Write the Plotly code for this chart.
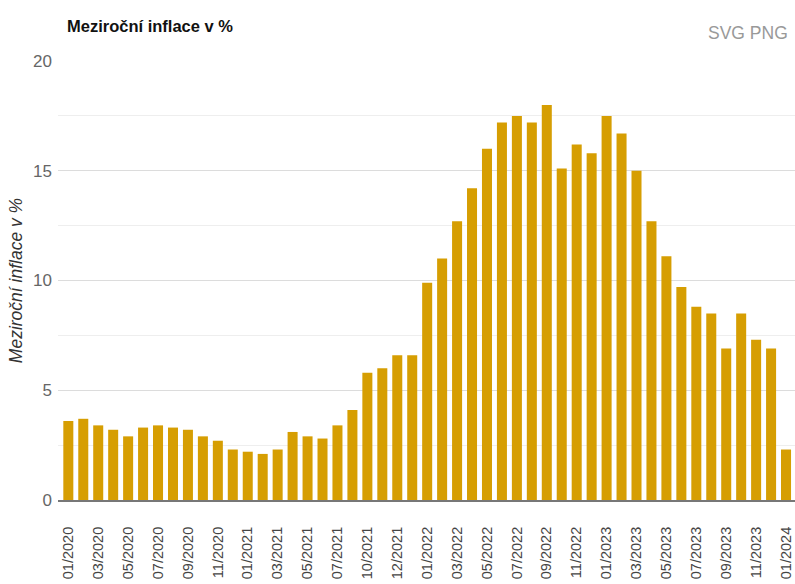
import plotly.graph_objects as go

# Monthly year-on-year inflation (%), in chart order
months = [
    "01/2020", "02/2020", "03/2020", "04/2020", "05/2020", "06/2020",
    "07/2020", "08/2020", "09/2020", "10/2020", "11/2020", "12/2020",
    "01/2021", "02/2021", "03/2021", "04/2021", "05/2021", "06/2021",
    "07/2021", "08/2021", "10/2021", "11/2021", "12/2021", "12/2021",
    "01/2022", "02/2022", "03/2022", "04/2022", "05/2022", "06/2022",
    "07/2022", "08/2022", "09/2022", "10/2022", "11/2022", "12/2022",
    "01/2023", "02/2023", "03/2023", "04/2023", "05/2023", "06/2023",
    "07/2023", "08/2023", "09/2023", "10/2023", "11/2023", "12/2023",
    "01/2024",
]
inflation = [
    3.6, 3.7, 3.4, 3.2, 2.9, 3.3,
    3.4, 3.3, 3.2, 2.9, 2.7, 2.3,
    2.2, 2.1, 2.3, 3.1, 2.9, 2.8,
    3.4, 4.1, 5.8, 6.0, 6.6, 6.6,
    9.9, 11.0, 12.7, 14.2, 16.0, 17.2,
    17.5, 17.2, 18.0, 15.1, 16.2, 15.8,
    17.5, 16.7, 15.0, 12.7, 11.1, 9.7,
    8.8, 8.5, 6.9, 8.5, 7.3, 6.9,
    2.3,
]

positions = list(range(len(months)))
tick_positions = positions[::2]
tick_labels = months[::2]

FONT = "Liberation Sans, Arial, sans-serif"

fig = go.Figure(
    go.Bar(
        x=positions,
        y=inflation,
        width=0.67,
        marker=dict(color="#d69e02", line=dict(width=0)),
        hovertemplate="%{customdata}: %{y} %<extra></extra>",
        customdata=months,
    )
)

fig.update_layout(
    width=795,
    height=584,
    margin=dict(l=58, r=0, t=61, b=84),
    paper_bgcolor="white",
    plot_bgcolor="white",
    showlegend=False,
    font=dict(family=FONT, color="#444"),
    title=dict(
        text="<b>Meziroční inflace v %</b>",
        xref="container",
        x=67 / 795,
        xanchor="left",
        yref="container",
        y=1 - 26 / 584,
        yanchor="middle",
        font=dict(family=FONT, size=16.5, color="#111"),
    ),
    xaxis=dict(
        range=[-0.69, 48.6],
        tickmode="array",
        tickvals=tick_positions,
        ticktext=tick_labels,
        tickangle=-90,
        tickfont=dict(family=FONT, size=14.5, color="#444"),
        ticks="outside",
        ticklen=19,
        tickcolor="rgba(0,0,0,0)",
        showgrid=False,
        zeroline=False,
        showline=True,
        linecolor="#777",
        linewidth=2,
        automargin=False,
        fixedrange=True,
    ),
    yaxis=dict(
        range=[0, 20],
        tickmode="linear",
        tick0=0,
        dtick=5,
        tickfont=dict(family=FONT, size=17, color="#666"),
        showgrid=True,
        gridcolor="#dcdcdc",
        gridwidth=1,
        minor=dict(dtick=2.5, tick0=0, showgrid=True, gridcolor="#eeeeee", gridwidth=1),
        zeroline=False,
        ticks="",
        ticklabelstandoff=5,
        title=dict(
            text="<i>Meziroční inflace v %</i>",
            font=dict(family=FONT, size=17.5, color="#333"),
            standoff=5,
        ),
        fixedrange=True,
    ),
    annotations=[
        dict(
            text="SVG PNG",
            xref="paper",
            yref="paper",
            x=(790 - 58) / 737,
            y=(500 - 33) / 439,
            xanchor="right",
            yanchor="middle",
            showarrow=False,
            font=dict(family=FONT, size=17.5, color="#999"),
        )
    ],
)

fig.write_html("out.html")
